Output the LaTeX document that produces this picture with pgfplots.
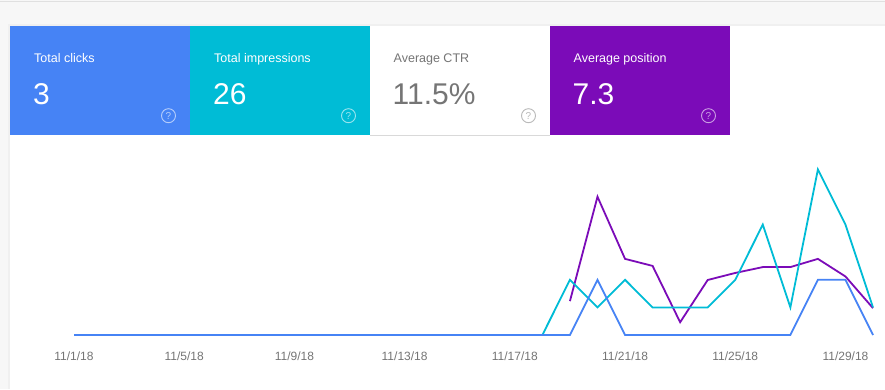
\documentclass[border=0pt]{standalone}
\usepackage{fontspec}
\setmainfont{Liberation Sans}
\usepackage{pgfplots}
\pgfplotsset{compat=1.18}
\definecolor{gblue}{HTML}{4683F5}
\definecolor{gcyan}{HTML}{00BCD6}
\definecolor{gpurple}{HTML}{7B0BB8}
\definecolor{ggray}{HTML}{757575}
\definecolor{bggray}{HTML}{F7F7F7}
\pgfplotsset{gsc/.style={at={(74pt,54pt)}, anchor=south west, scale only axis,
  width=799pt, height=193.2pt, xmin=0, xmax=29, clip=false}}
\begin{document}
\begin{tikzpicture}[x=1pt,y=1pt]
\useasboundingbox (0pt,0pt) rectangle (885pt,389pt);
\fill[bggray] (0,0) rectangle (885,389);
\draw[black!12, line width=1pt] (0,387.5) -- (885,387.5);
\fill[black!6] (8,0) rectangle (885,365);
\fill[white] (10,0) rectangle (885,363);
% tiles
\fill[gblue] (10,254) rectangle (190,363);
\fill[gcyan] (190,254) rectangle (370,363);
\fill[white] (370,254) rectangle (550,363);
\draw[black!15] (370,254) -- (550,254);
\fill[gpurple] (550,254) rectangle (730,363);
\begin{scope}[every node/.style={anchor=base west, inner sep=0pt}]
\node[text=white, font=\fontsize{12.5}{15}\selectfont] at (34,326.7) {Total clicks};
\node[text=white, font=\fontsize{12.5}{15}\selectfont] at (214,326.7) {Total impressions};
\node[text=ggray, font=\fontsize{12.5}{15}\selectfont] at (393.5,326.7) {Average CTR};
\node[text=ggray, font=\fontsize{12.5}{15}\selectfont, text=white] at (573.5,326.7) {Average position};
\node[text=white, font=\fontsize{30}{34}\selectfont] at (33,284.7) {3};
\node[text=white, font=\fontsize{30}{34}\selectfont] at (213,284.7) {26};
\node[text=ggray, font=\fontsize{30}{34}\selectfont] at (392.5,284.7) {11.5\%};
\node[text=white, font=\fontsize{30}{34}\selectfont] at (572.5,284.7) {7.3};
\end{scope}
\foreach \cx/\col in {168.5/white, 348.5/white, 528.5/black!45, 708.5/white}{
  \draw[\col, opacity=0.6, line width=0.9pt] (\cx,273.3) circle (7);
  \node[text=\col, opacity=0.6, inner sep=0pt, font=\fontsize{10}{10}\selectfont] at (\cx,273.3) {?};
}
% date labels axis
\begin{axis}[gsc, ymin=0, ymax=7,
  axis line style={draw=none}, major tick length=0pt,
  ytick=\empty, xtick={0,4,...,28},
  xticklabels={11/1/18,11/5/18,11/9/18,11/13/18,11/17/18,11/21/18,11/25/18,11/29/18},
  xticklabel style={font=\fontsize{12}{14}\selectfont, text=ggray, anchor=north, inner sep=0pt, yshift=-17pt}]
\addplot[draw=none] coordinates {(0,0)};
\end{axis}
% position axis (reversed)
\begin{axis}[gsc, ymin=-3.68, ymax=12.79, y dir=reverse, hide axis]
\addplot[gpurple, line width=1.8pt, line join=miter] coordinates {
(18,9.9) (19,1.0) (20,6.3) (21,6.9) (22,11.7) (23,8.1) (24,7.5) (25,7.0) (26,7.0) (27,6.3) (28,7.8) (29,10.5)};
\end{axis}
% impressions axis
\begin{axis}[gsc, ymin=0, ymax=7, hide axis]
\addplot[gcyan, line width=1.8pt, line join=miter] coordinates {
(0,0) (1,0) (2,0) (3,0) (4,0) (5,0) (6,0) (7,0) (8,0) (9,0) (10,0) (11,0) (12,0) (13,0) (14,0) (15,0) (16,0) (17,0)
(18,2) (19,1) (20,2) (21,1) (22,1) (23,1) (24,2) (25,4) (26,1) (27,6) (28,4) (29,1)};
\end{axis}
% clicks axis
\begin{axis}[gsc, ymin=0, ymax=3.5, hide axis]
\addplot[gblue, line width=1.8pt, line join=miter] coordinates {
(0,0) (1,0) (2,0) (3,0) (4,0) (5,0) (6,0) (7,0) (8,0) (9,0) (10,0) (11,0) (12,0) (13,0) (14,0) (15,0) (16,0) (17,0)
(18,0) (19,1) (20,0) (21,0) (22,0) (23,0) (24,0) (25,0) (26,0) (27,1) (28,1) (29,0)};
\end{axis}
\end{tikzpicture}
\end{document}
